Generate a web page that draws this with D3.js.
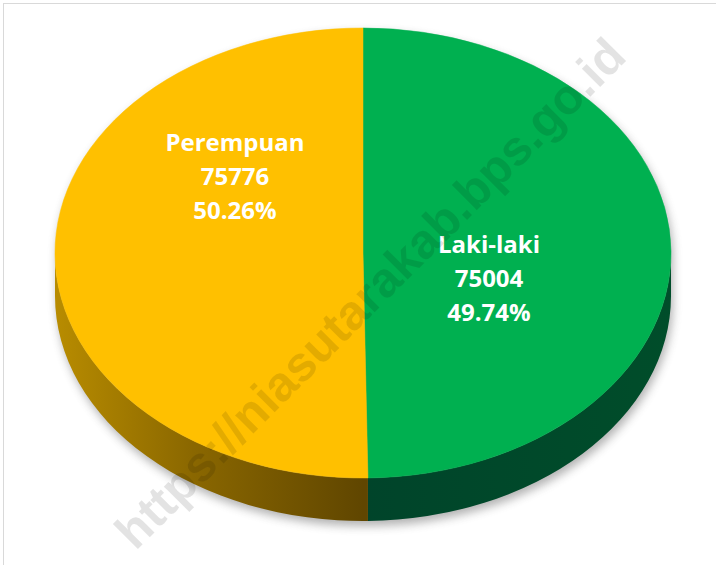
<!DOCTYPE html>
<html>
<head>
<meta charset="utf-8">
<script src="https://cdn.jsdelivr.net/npm/d3@7"></script>
<style>
  html, body { margin: 0; padding: 0; background: #fff; }
  svg { display: block; }
</style>
</head>
<body>
<div id="chart"></div>
<script>
// ---- data ----
const categories = ["Laki-laki", "Perempuan"];
const values = [75004, 75776];
const topColors = ["#00B050", "#FFC000"];
const watermarkText = "https://niasutarakab.bps.go.id";

// ---- layout ----
const W = 716, H = 565;
const cx = 363, cy = 253, rx = 308, ry = 225, depth = 43;

const svg = d3.select("#chart").append("svg")
  .attr("width", W).attr("height", H);

const defs = svg.append("defs");
const blur = defs.append("filter").attr("id", "shadowBlur")
  .attr("x", "-20%").attr("y", "-20%").attr("width", "140%").attr("height", "140%");
blur.append("feGaussianBlur").attr("stdDeviation", 5);

const gY = defs.append("linearGradient").attr("id", "sideYellow")
  .attr("gradientUnits", "userSpaceOnUse")
  .attr("x1", cx - rx).attr("y1", 0).attr("x2", cx).attr("y2", 0);
gY.append("stop").attr("offset", "0%").attr("stop-color", "#B88C00");
gY.append("stop").attr("offset", "45%").attr("stop-color", "#8A6700");
gY.append("stop").attr("offset", "100%").attr("stop-color", "#604600");

const gG = defs.append("linearGradient").attr("id", "sideGreen")
  .attr("gradientUnits", "userSpaceOnUse")
  .attr("x1", cx).attr("y1", 0).attr("x2", cx + rx).attr("y2", 0);
gG.append("stop").attr("offset", "0%").attr("stop-color", "#00442A");
gG.append("stop").attr("offset", "100%").attr("stop-color", "#004D2A");
const sideFills = ["url(#sideGreen)", "url(#sideYellow)"];

// border
svg.append("rect")
  .attr("x", 3.5).attr("y", 3.5).attr("width", W + 10).attr("height", H + 10)
  .attr("fill", "none").attr("stroke", "#d9d9d9").attr("stroke-width", 1);

// pie angles via d3.pie (clockwise from top)
const pie = d3.pie().sort(null).value(d => d);
const arcs = pie(values);
const total = d3.sum(values);
const pct = d3.format(".2%");

// projected ellipse helpers
const px = a => cx + rx * Math.sin(a);
const py = (a, dz = 0) => cy - ry * Math.cos(a) + dz;

function topPath(a0, a1) {
  const large = (a1 - a0) > Math.PI ? 1 : 0;
  return `M${cx},${cy}L${px(a0)},${py(a0)}A${rx},${ry} 0 ${large} 1 ${px(a1)},${py(a1)}Z`;
}
function sidePath(a0, a1) {
  const large = (a1 - a0) > Math.PI ? 1 : 0;
  return `M${px(a0)},${py(a0)}A${rx},${ry} 0 ${large} 1 ${px(a1)},${py(a1)}` +
         `L${px(a1)},${py(a1, depth)}A${rx},${ry} 0 ${large} 0 ${px(a0)},${py(a0, depth)}Z`;
}

// shadow
const sh = svg.append("g").attr("filter", "url(#shadowBlur)")
  .attr("opacity", 0.45).attr("transform", "translate(2,5)");
sh.append("ellipse").attr("cx", cx).attr("cy", cy).attr("rx", rx).attr("ry", ry).attr("fill", "#555");
sh.append("ellipse").attr("cx", cx).attr("cy", cy + depth).attr("rx", rx).attr("ry", ry).attr("fill", "#555");
sh.append("rect").attr("x", cx - rx).attr("y", cy).attr("width", 2 * rx).attr("height", depth).attr("fill", "#555");

// sides (front half visible: PI/2 .. 3PI/2)
const lo = Math.PI / 2, hi = 3 * Math.PI / 2;
const sides = svg.append("g");
arcs.forEach((d, i) => {
  const a0 = Math.max(d.startAngle, lo), a1 = Math.min(d.endAngle, hi);
  if (a1 > a0) {
    sides.append("path").attr("d", sidePath(a0, a1)).attr("fill", sideFills[i]);
  }
});

// tops
const tops = svg.append("g");
arcs.forEach((d, i) => {
  tops.append("path").attr("d", topPath(d.startAngle, d.endAngle))
    .attr("fill", topColors[i]).attr("stroke", topColors[i]).attr("stroke-width", 0.5);
});

// labels
const labelPos = [
  { x: cx + 126, y: cy },        // Laki-laki
  { x: cx - 128, y: cy - 102 }   // Perempuan
];
const lab = svg.append("g")
  .attr("font-family", "'Open Sans', 'Liberation Sans', sans-serif")
  .attr("font-weight", "bold").attr("font-size", 24).attr("fill", "#fff")
  .attr("text-anchor", "middle");
arcs.forEach((d, i) => {
  const lines = [categories[i], String(values[i]), pct(values[i] / total)];
  lines.forEach((t, j) => {
    lab.append("text").attr("x", labelPos[i].x).attr("y", labelPos[i].y + j * 34)
      .text(t);
  });
});

// watermark
svg.append("text")
  .attr("transform", "translate(370,293) rotate(-45)")
  .attr("text-anchor", "middle").attr("dominant-baseline", "central")
  .attr("font-family", "'Liberation Sans', Arial, sans-serif")
  .attr("font-weight", "bold").attr("font-size", 49)
  .attr("fill", "#000").attr("fill-opacity", 0.11)
  .text(watermarkText);
</script>
</body>
</html>
